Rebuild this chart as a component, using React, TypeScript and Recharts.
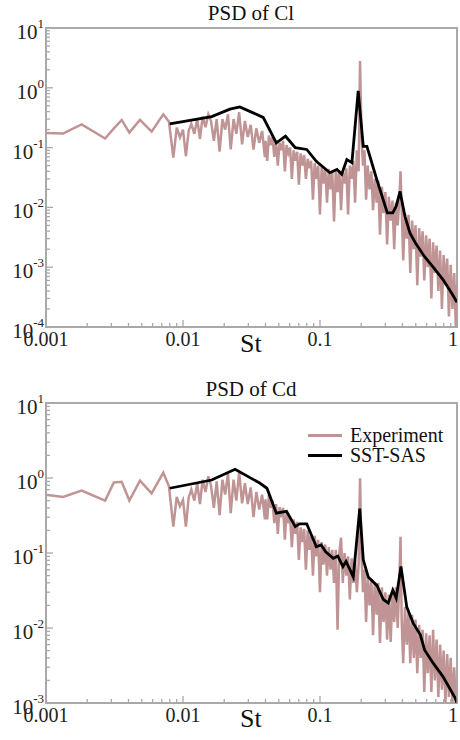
import React from 'react';
import { LineChart, Line, XAxis, YAxis, ReferenceArea, Legend } from 'recharts';

// St values of the measured spectrum (shared by both panels)
const EXP_ST = [
  0.001, 0.00133, 0.00182, 0.0027, 0.00313, 0.00357, 0.00406, 0.00485, 0.0059, 0.00718,
  0.0079, 0.0085, 0.009, 0.0095, 0.01, 0.0105, 0.011, 0.0115, 0.0121, 0.0127,
  0.0133, 0.0139, 0.0146, 0.0153, 0.016, 0.0168, 0.0176, 0.0185, 0.0194, 0.0203,
  0.0213, 0.0223, 0.0234, 0.0245, 0.0257, 0.027, 0.0283, 0.0297, 0.0312, 0.0327,
  0.0343, 0.036, 0.0378, 0.0396,
  0.04, 0.0412, 0.0424, 0.0437, 0.045, 0.0464, 0.0478, 0.0492, 0.0507, 0.0522,
  0.0538, 0.0554, 0.057, 0.0587, 0.0605, 0.0623, 0.0642, 0.0661, 0.0681, 0.0701,
  0.0722, 0.0744, 0.0766, 0.0789, 0.0813, 0.0837, 0.0862, 0.0888, 0.0915, 0.0942,
  0.097, 0.0999, 0.1029, 0.106, 0.1092, 0.1125, 0.1159, 0.1193, 0.1229, 0.1266,
  0.1304, 0.1343, 0.1383, 0.1425, 0.1467, 0.1511, 0.1557, 0.1603, 0.1651, 0.1701,
  0.1752, 0.1804, 0.1858, 0.1914, 0.196, 0.201, 0.206, 0.211, 0.217, 0.223,
  0.23, 0.237, 0.244, 0.251, 0.259, 0.266, 0.274, 0.283, 0.291, 0.3,
  0.309, 0.318, 0.328, 0.338, 0.348, 0.358, 0.369, 0.38, 0.387, 0.395,
  0.405, 0.417, 0.43, 0.443, 0.456, 0.47, 0.484, 0.498, 0.513, 0.529,
  0.544, 0.561, 0.577, 0.595, 0.612, 0.631, 0.65, 0.669, 0.689, 0.71,
  0.731, 0.753, 0.776, 0.799, 0.823, 0.848, 0.873, 0.899, 0.926, 0.954,
  0.98, 1.0,
];

const CL_EXP = [
  0.175, 0.172, 0.245, 0.142, 0.21, 0.29, 0.178, 0.29, 0.185, 0.36,
  0.27, 0.068, 0.215, 0.148, 0.2, 0.072, 0.19, 0.25, 0.17, 0.3,
  0.14, 0.33, 0.22, 0.36, 0.28, 0.13, 0.3, 0.086, 0.3, 0.2,
  0.36, 0.093, 0.3, 0.17, 0.39, 0.113, 0.28, 0.15, 0.24, 0.093,
  0.21, 0.12, 0.19, 0.069,
  0.13, 0.06, 0.16, 0.11, 0.15, 0.07, 0.13, 0.05, 0.12, 0.09,
  0.13, 0.04, 0.11, 0.08, 0.1, 0.03, 0.09, 0.06, 0.085, 0.024,
  0.08, 0.05, 0.075, 0.03, 0.065, 0.045, 0.06, 0.0135, 0.055, 0.03,
  0.05, 0.0076, 0.048, 0.025, 0.045, 0.012, 0.044, 0.02, 0.04, 0.0058,
  0.04, 0.018, 0.042, 0.009, 0.04, 0.025, 0.045, 0.0076, 0.05, 0.03,
  0.06, 0.012, 0.09, 0.04, 2.8, 0.15, 0.05, 0.09, 0.0135, 0.05,
  0.02, 0.04, 0.009, 0.03, 0.012, 0.028, 0.0035, 0.022, 0.008, 0.018,
  0.0024, 0.015, 0.006, 0.013, 0.002, 0.012, 0.005, 0.014, 0.04, 0.009,
  0.0013, 0.008, 0.003, 0.0075, 0.0008, 0.006, 0.002, 0.005, 0.0005, 0.0045,
  0.0015, 0.004, 0.0006, 0.0034, 0.001, 0.003, 0.0003, 0.0026, 0.0008, 0.0023,
  0.0004, 0.0019, 0.0002, 0.0016, 0.0005, 0.0014, 0.00015, 0.0011, 0.0002, 0.0008,
  0.0001, 0.0005,
];

const CD_EXP = [
  0.6, 0.56, 0.68, 0.5, 0.87, 0.89, 0.5, 0.92, 0.625, 1.18,
  0.77, 0.225, 0.56, 0.42, 0.51, 0.225, 0.55, 0.7, 0.5, 0.85,
  0.45, 0.95, 0.65, 1.05, 0.8, 0.4, 0.9, 0.32, 0.95, 0.6,
  1.15, 0.34, 0.95, 0.5, 1.2, 0.46, 0.85, 0.45, 0.75, 0.3,
  0.65, 0.38, 0.6, 0.28,
  0.52, 0.28, 0.6, 0.4, 0.5, 0.25, 0.45, 0.18, 0.41, 0.3,
  0.4, 0.15, 0.36, 0.25, 0.3, 0.12, 0.28, 0.18, 0.26, 0.081,
  0.22, 0.14, 0.21, 0.06, 0.2, 0.11, 0.18, 0.05, 0.17, 0.09,
  0.15, 0.03, 0.14, 0.07, 0.13, 0.05, 0.12, 0.06, 0.11, 0.04,
  0.11, 0.0095, 0.1, 0.16, 0.04, 0.1, 0.05, 0.09, 0.024, 0.085,
  0.04, 0.08, 0.03, 0.07, 0.99, 0.09, 0.03, 0.06, 0.012, 0.05,
  0.02, 0.045, 0.008, 0.04, 0.015, 0.04, 0.0063, 0.035, 0.012, 0.03,
  0.007, 0.028, 0.0065, 0.03, 0.012, 0.035, 0.01, 0.045, 0.165, 0.012,
  0.0034, 0.019, 0.006, 0.017, 0.0034, 0.015, 0.004, 0.013, 0.0025, 0.011,
  0.004, 0.0095, 0.0014, 0.0085, 0.0025, 0.008, 0.0014, 0.0095, 0.002, 0.007,
  0.0012, 0.006, 0.0015, 0.005, 0.001, 0.0045, 0.0012, 0.004, 0.001, 0.003,
  0.001, 0.0015,
];

// SST-SAS simulation
const CL_SAS_ST = [
  0.008, 0.0162, 0.022, 0.026, 0.0385, 0.048, 0.056, 0.066, 0.08, 0.094,
  0.118, 0.133, 0.144, 0.157, 0.171, 0.19, 0.207, 0.22, 0.26, 0.31,
  0.34, 0.36, 0.384, 0.417, 0.454, 0.5, 0.58, 0.67, 0.79, 0.92, 1.0,
];
const CL_SAS = [
  0.25, 0.33, 0.44, 0.48, 0.32, 0.12, 0.155, 0.1, 0.093, 0.059,
  0.038, 0.043, 0.036, 0.063, 0.056, 0.89, 0.105, 0.105, 0.029, 0.0081,
  0.0081, 0.0105, 0.0185, 0.0071, 0.0037, 0.0025, 0.0015, 0.001, 0.00062, 0.00036, 0.00026,
];

const CD_SAS_ST = [
  0.008, 0.0162, 0.024, 0.0365, 0.041, 0.048, 0.057, 0.066, 0.071, 0.08,
  0.094, 0.102, 0.11, 0.125, 0.135, 0.147, 0.155, 0.175, 0.195, 0.207,
  0.225, 0.26, 0.29, 0.315, 0.34, 0.36, 0.39, 0.43, 0.48, 0.54,
  0.58, 0.67, 0.79, 0.97, 1.0,
];
const CD_SAS = [
  0.73, 0.94, 1.31, 0.85, 0.73, 0.34, 0.36, 0.225, 0.245, 0.245,
  0.121, 0.128, 0.104, 0.085, 0.091, 0.066, 0.077, 0.048, 0.39, 0.081,
  0.048, 0.037, 0.024, 0.0215, 0.032, 0.025, 0.066, 0.019, 0.0115, 0.0081,
  0.0051, 0.0034, 0.00225, 0.00116, 0.001,
];

const X_MAJOR = [0.001, 0.01, 0.1, 1];
const X_LABELS = ['0.001', '0.01', '0.1', '1'];
const CL_Y_MAJOR = [1e-4, 1e-3, 1e-2, 1e-1, 1, 10];
const CD_Y_MAJOR = [1e-3, 1e-2, 1e-1, 1, 10];

const FONT = '"Liberation Serif", "Times New Roman", serif';
const EXP_COLOR = '#c09494';
const FRAME = '#a9a9a9';

const zip = (xs: number[], ys: number[]) => xs.map((st, i) => ({ st, psd: ys[i] }));

// majors plus the 2..9 minor ticks of each decade
const withMinors = (majors: number[]) => {
  const out: number[] = [];
  majors.forEach((m, i) => {
    out.push(m);
    if (i < majors.length - 1) {
      for (let k = 2; k <= 9; k++) out.push(+(m * k).toPrecision(4));
    }
  });
  return out;
};

const isMajor = (v: number) => {
  const e = Math.round(Math.log10(v));
  return Math.abs(v / Math.pow(10, e) - 1) < 1e-6;
};

const XTick = (props: any) => {
  const { x, y, payload } = props;
  const idx = X_MAJOR.findIndex(v => Math.abs(v / payload.value - 1) < 1e-6);
  const major = idx >= 0;
  const last = idx === X_MAJOR.length - 1;
  return (
    <g>
      <line x1={x} x2={x} y1={y} y2={y - (major ? 7 : 4)} stroke={FRAME} strokeWidth={1.3} />
      {major && (
        <text
          x={last ? x + 1 : x}
          y={y + 19}
          textAnchor={last ? 'end' : 'middle'}
          fontFamily={FONT}
          fontSize={20}
          fill="#222"
        >
          {X_LABELS[idx]}
        </text>
      )}
    </g>
  );
};

const YTick = (props: any) => {
  const { x, y, payload } = props;
  const v = payload.value;
  const major = isMajor(v);
  const exp = Math.round(Math.log10(v));
  return (
    <g>
      <line x1={x} x2={x + (major ? 7 : 4)} y1={y} y2={y} stroke={FRAME} strokeWidth={1.3} />
      {major && (
        <text x={x - 2} y={y + 11} textAnchor="end" fontFamily={FONT} fill="#222">
          <tspan fontSize={21}>10</tspan>
          <tspan fontSize={13} dy={-11}>{`${exp}`}</tspan>
        </text>
      )}
    </g>
  );
};

const renderLegend = (props: any) => (
  <div style={{ fontFamily: FONT, fontSize: 20, color: '#111' }}>
    {props.payload.map((entry: any) => (
      <div key={entry.value} style={{ display: 'flex', alignItems: 'center', height: 20, lineHeight: '20px' }}>
        <div style={{ width: 34, height: 3, background: entry.color, marginRight: 8 }} />
        <span>{entry.value}</span>
      </div>
    ))}
  </div>
);

interface PanelProps {
  expData: { st: number; psd: number }[];
  sasData: { st: number; psd: number }[];
  yMajor: number[];
  margin: { top: number; right: number; bottom: number; left: number };
  showLegend?: boolean;
}

const Panel: React.FC<PanelProps> = ({ expData, sasData, yMajor, margin, showLegend }) => {
  const yMin = yMajor[0];
  const yMax = yMajor[yMajor.length - 1];
  return (
    <LineChart width={460} height={370} margin={margin}>
      <XAxis
        dataKey="st"
        type="number"
        scale="log"
        domain={[0.001, 1]}
        allowDataOverflow
        ticks={withMinors(X_MAJOR)}
        interval={0}
        height={1}
        tickSize={0}
        tickMargin={0}
        axisLine={false}
        tickLine={false}
        tick={<XTick />}
      />
      <YAxis
        type="number"
        scale="log"
        domain={[yMin, yMax]}
        allowDataOverflow
        ticks={withMinors(yMajor)}
        interval={0}
        width={1}
        tickSize={0}
        tickMargin={0}
        axisLine={false}
        tickLine={false}
        tick={<YTick />}
      />
      <ReferenceArea x1={0.001} x2={1} y1={yMin} y2={yMax} fill="none" stroke={FRAME} strokeWidth={2} />
      <Line
        data={expData}
        dataKey="psd"
        name="Experiment"
        type="linear"
        stroke={EXP_COLOR}
        strokeWidth={2.5}
        dot={false}
        activeDot={false}
        isAnimationActive={false}
      />
      <Line
        data={sasData}
        dataKey="psd"
        name="SST-SAS"
        type="linear"
        stroke="#000"
        strokeWidth={2.8}
        dot={false}
        activeDot={false}
        isAnimationActive={false}
      />
      {showLegend && (
        <Legend
          layout="horizontal"
          verticalAlign="middle"
          align="center"
          content={renderLegend}
          wrapperStyle={{ top: 55, left: 308, width: 150, height: 40 }}
        />
      )}
    </LineChart>
  );
};

const textStyle: React.CSSProperties = {
  position: 'absolute',
  fontFamily: FONT,
  color: '#111',
  whiteSpace: 'nowrap',
};

export default function App() {
  return (
    <div style={{ position: 'absolute', left: 0, top: 0, width: 460, height: 740, background: '#fff', overflow: 'hidden' }}>
      <div style={{ position: 'absolute', left: 0, top: 0 }}>
        <Panel
          expData={zip(EXP_ST, CL_EXP)}
          sasData={zip(CL_SAS_ST, CL_SAS)}
          yMajor={CL_Y_MAJOR}
          margin={{ top: 28, right: 3, bottom: 42, left: 45 }}
        />
      </div>
      <div style={{ position: 'absolute', left: 0, top: 370 }}>
        <Panel
          expData={zip(EXP_ST, CD_EXP)}
          sasData={zip(CD_SAS_ST, CD_SAS)}
          yMajor={CD_Y_MAJOR}
          margin={{ top: 33, right: 3, bottom: 36, left: 45 }}
          showLegend
        />
      </div>
      <div style={{ ...textStyle, left: 151, width: 200, textAlign: 'center', top: 3, fontSize: 21, lineHeight: '21px' }}>
        PSD of Cl
      </div>
      <div style={{ ...textStyle, left: 240, top: 331, fontSize: 26, lineHeight: '26px' }}>St</div>
      <div style={{ ...textStyle, left: 151, width: 200, textAlign: 'center', top: 379, fontSize: 21, lineHeight: '21px' }}>
        PSD of Cd
      </div>
      <div style={{ ...textStyle, left: 240, top: 706, fontSize: 26, lineHeight: '26px' }}>St</div>
    </div>
  );
}
